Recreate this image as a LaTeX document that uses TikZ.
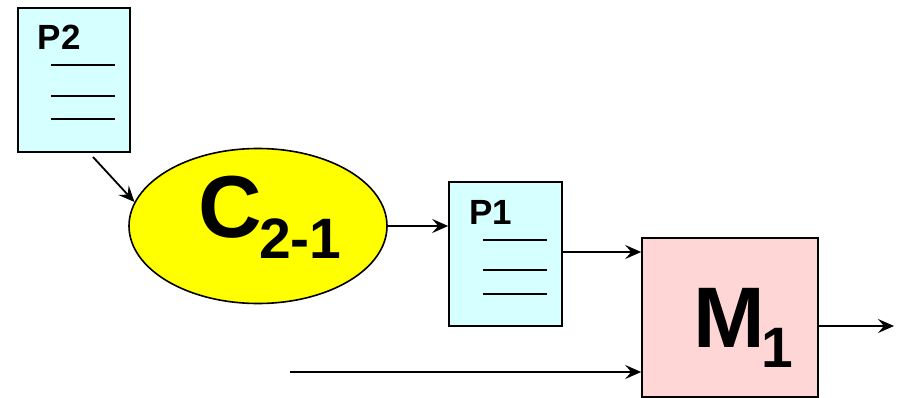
\documentclass[tikz,border=0pt]{standalone}
\usepackage{fontspec}
\setmainfont{Liberation Sans}
\usetikzlibrary{shapes.geometric,arrows.meta}
\definecolor{docfill}{RGB}{214,255,255}
\definecolor{machfill}{RGB}{255,214,214}
\definecolor{cellfill}{RGB}{255,255,0}
\tikzset{
  docbox/.style={draw=black, line width=1.6pt, fill=docfill, inner sep=0pt},
  machbox/.style={draw=black, line width=1.6pt, fill=machfill, inner sep=0pt},
  cellshape/.style={ellipse, draw=black, line width=1.6pt, fill=cellfill, inner sep=0pt},
  rule/.style={line width=1.6pt},
  conn/.style={line width=1.8pt, -{Stealth[length=16pt,width=14pt,inset=6pt]}},
  lbl/.style={inner sep=0pt, anchor=base west, font=\bfseries},
}
\begin{document}
\begin{tikzpicture}[x=1pt,y=-1pt]
  \useasboundingbox (0,0) rectangle (899,398);

  % document P2
  \node[docbox, minimum width=112pt, minimum height=144pt] (p2) at (74,80) {};
  \node[lbl, font=\fontsize{35}{35}\bfseries\selectfont] (p2t) at (37.5,50) {P2};
  \draw[rule] (51,65) -- (115,65) (51,96) -- (115,96) (51,119) -- (115,119);

  % cell C2-1
  \node[cellshape, minimum width=258pt, minimum height=155pt] (c) at (258,226) {};
  \node[lbl, font=\fontsize{88}{88}\bfseries\selectfont] (ct) at (198,237) {C};
  \node[lbl, font=\fontsize{57}{57}\bfseries\selectfont] (cs) at (259,258) {2-1};

  % document P1
  \node[docbox, minimum width=113pt, minimum height=144pt] (p1) at (505.5,254) {};
  \node[lbl, font=\fontsize{35}{35}\bfseries\selectfont] (p1t) at (469,225) {P1};
  \draw[rule] (483,240) -- (547,240) (483,270) -- (547,270) (483,294) -- (547,294);

  % machine M1
  \node[machbox, minimum width=176pt, minimum height=159pt] (m) at (730,317.5) {};
  \node[lbl, font=\fontsize{86}{86}\bfseries\selectfont] (mt) at (693,347) {M};
  \node[lbl, font=\fontsize{57}{57}\bfseries\selectfont] (ms) at (761,367) {1};

  % connectors
  \coordinate (p2tail) at (93,157);
  \coordinate (feed) at (290,372);
  \coordinate (out) at (894,326);
  \draw[conn] (p2tail) -- (c.169);
  \draw[conn] (c.east) -- (c.east -| p1.west);
  \draw[conn] ([yshift=2pt]p1.east) -- ([yshift=2pt]p1.east -| m.west);
  \draw[conn] (feed) -- (feed -| m.west);
  \draw[conn] (out -| m.east) -- (out);
\end{tikzpicture}
\end{document}
